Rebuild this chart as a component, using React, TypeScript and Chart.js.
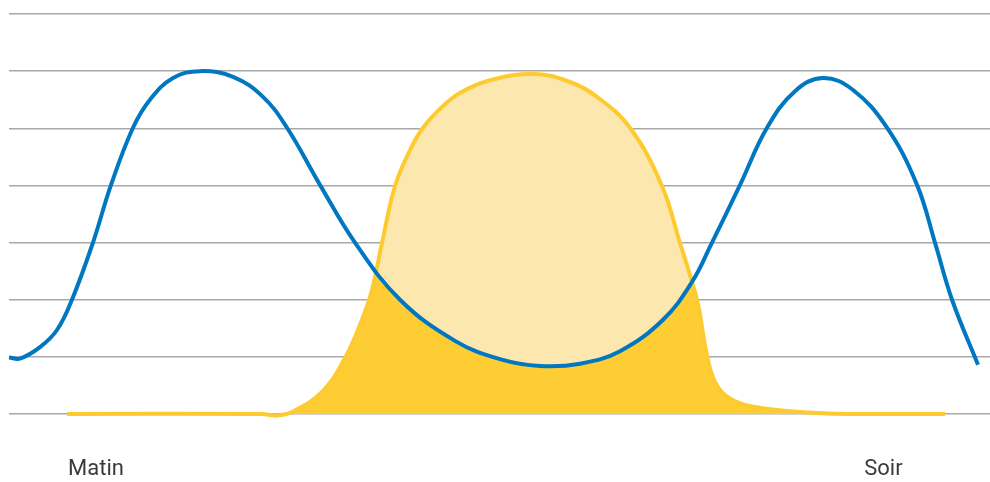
import { useEffect, useRef } from 'react';
import { Chart, registerables } from 'chart.js';

Chart.register(...registerables);

// Blue curve (consumption) — x on a 0..100 day axis, y in grid units
const consumptionX = [0, 1.12, 3.16, 4.89, 6.42, 8.56, 10.4, 12.64, 14.37, 16.72, 19.47, 22.83, 25.89, 28.34, 31.7, 35.27, 39.86, 45.46, 50.05, 54.13, 58.21, 62.28, 66.67, 69.62, 71.66, 74.52, 77.27, 80.12, 82.98, 86.04, 89.5, 92.56, 94.39, 96.13, 98.78];
const consumptionY = [0.99, 0.97, 1.17, 1.47, 2.0, 3.0, 4.01, 5.01, 5.5, 5.88, 6.0, 5.9, 5.55, 5.01, 4.01, 3.0, 2.0, 1.28, 0.96, 0.84, 0.88, 1.1, 1.65, 2.31, 3.0, 4.01, 5.01, 5.65, 5.88, 5.67, 5.01, 4.01, 3.0, 2.0, 0.86];

// Yellow curve (solar production)
const solarX = [5.91, 25.79, 27.22, 28.85, 31.91, 34.25, 35.98, 37.0, 38.02, 39.35, 40.88, 42.2, 43.93, 46.0, 49.03, 53.62, 57.19, 59.94, 63.3, 66.56, 68.4, 70.13, 70.85, 71.36, 71.97, 72.99, 75.03, 79.61, 85.73, 95.41];
const solarY = [0, 0, -0.026, 0.035, 0.385, 0.98, 1.65, 2.17, 2.99, 3.99, 4.62, 5.01, 5.34, 5.62, 5.84, 5.95, 5.81, 5.55, 5.01, 3.99, 2.99, 2.0, 1.3, 0.86, 0.56, 0.33, 0.16, 0.05, 0, 0];

// Axis labels
const axisLabels = ['Matin', 'Soir'];
const axisLabelPositions = [8.87, 89.14];

const BLUE = '#0077C1';
const YELLOW = '#FDCB2F';
const YELLOW_DARK = '#FECD34';
const YELLOW_LIGHT = '#FCE8AF';

export default function App() {
  const canvasRef = useRef<HTMLCanvasElement | null>(null);

  useEffect(() => {
    if (!canvasRef.current) return;
    const consumption = consumptionX.map((x, i) => ({ x, y: consumptionY[i] }));
    const solar = solarX.map((x, i) => ({ x, y: solarY[i] }));

    const chart = new Chart(canvasRef.current, {
      type: 'line',
      data: {
        datasets: [
          {
            label: 'Consommation',
            data: consumption,
            borderColor: BLUE,
            borderWidth: 4,
            pointRadius: 0,
            fill: false,
            tension: 0.4,
            clip: false,
          } as any,
          {
            label: 'Production au-dessus',
            data: solar,
            borderColor: 'rgba(0,0,0,0)',
            borderWidth: 0,
            pointRadius: 0,
            fill: { target: 0, above: YELLOW_LIGHT, below: 'rgba(0,0,0,0)' },
            tension: 0.4,
            clip: false,
          } as any,
          {
            label: 'Production solaire',
            data: solar,
            borderColor: YELLOW,
            backgroundColor: YELLOW_DARK,
            borderWidth: 4,
            pointRadius: 0,
            fill: 'origin',
            tension: 0.4,
            clip: false,
          } as any,
        ],
      },
      options: {
        animation: false,
        responsive: true,
        maintainAspectRatio: false,
        layout: { padding: { top: 14, left: 9, right: 0, bottom: 0 } },
        plugins: {
          legend: { display: false },
          tooltip: { enabled: false },
          filler: { drawTime: 'beforeDatasetsDraw' },
        },
        scales: {
          x: {
            type: 'linear',
            min: 0,
            max: 100,
            grid: { display: false, drawTicks: false },
            border: { display: false },
            afterBuildTicks: (axis: any) => {
              axis.ticks = axisLabelPositions.map((v) => ({ value: v }));
            },
            afterFit: (scale: any) => {
              scale.height = 68;
            },
            ticks: {
              autoSkip: false,
              maxRotation: 0,
              padding: 42,
              color: '#3a3a3a',
              font: { family: 'Roboto', size: 22 },
              callback: (value: any) => {
                const idx = axisLabelPositions.indexOf(Number(value));
                return idx >= 0 ? axisLabels[idx] : '';
              },
            },
          },
          y: {
            min: 0,
            max: 7,
            ticks: { display: false, stepSize: 1 },
            grid: { color: '#a8a8a8', lineWidth: 1.5, drawTicks: false },
            border: { display: false },
            afterFit: (scale: any) => {
              scale.width = 0;
            },
          },
        },
      } as any,
    });
    return () => chart.destroy();
  }, []);

  return (
    <div style={{ position: 'absolute', left: 0, top: 0, width: 990, height: 482 }}>
      <canvas ref={canvasRef} />
    </div>
  );
}
